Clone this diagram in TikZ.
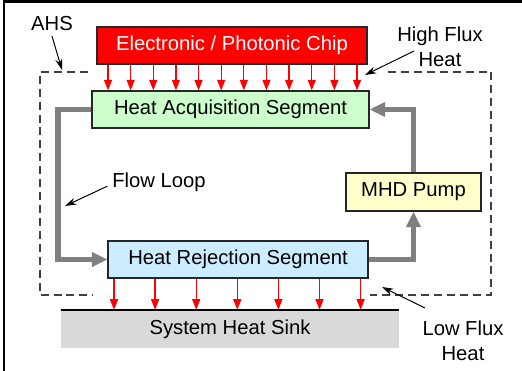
\documentclass[tikz,border=0pt]{standalone}
\usepackage{fontspec}
\setmainfont{Liberation Sans}
\usetikzlibrary{arrows.meta,positioning}
\definecolor{chipred}{RGB}{255,0,0}
\definecolor{acqgreen}{RGB}{204,255,204}
\definecolor{rejblue}{RGB}{204,236,255}
\definecolor{pumpyellow}{RGB}{255,255,204}
\definecolor{sinkgray}{RGB}{217,217,217}
\definecolor{loopgray}{RGB}{128,128,128}

\begin{document}
\begin{tikzpicture}[>=latex, font=\fontsize{14.4}{17.5}\selectfont,
  block/.style={draw=black!85, line width=0.9pt, inner sep=0pt, minimum height=0.925cm},
  heatflux/.style={red, line width=0.9pt, -{Triangle[length=7.5pt,width=5.7pt]}},
  loopline/.style={loopgray, line width=3.6pt, -{Triangle[length=11pt,width=10pt]}},
  callout/.style={black, line width=0.7pt, -{Stealth[length=8pt,width=5pt]}},
  ahsline/.style={black!75, line width=0.9pt, dash pattern=on 5.7pt off 3.5pt}]

\useasboundingbox (0,0) rectangle (13.05,9.275);

% ==========================================
% Frame (left and top edge only)
% ==========================================
\draw[line width=1.5pt] (0.1,0) -- (0.1,9.2375) -- (13.05,9.2375);

% ==========================================
% AHS Boundary (dashed, open where heat crosses)
% ==========================================
\draw[ahsline] (2.2,7.475) -- (1.0,7.475) -- (1.0,1.9) -- (2.325,1.9);
\draw[ahsline] (9.7,7.475) -- (12.275,7.475) -- (12.275,1.9) -- (9.25,1.9);

% ==========================================
% Blocks
% ==========================================
\node[block, fill=chipred, text=white, minimum width=6.75cm] (chip) at (5.8,8.1375) {Electronic / Photonic Chip};
\node[block, fill=acqgreen, minimum width=6.925cm] (acq) at (5.7625,6.5375) {Heat Acquisition Segment};
\node[block, fill=pumpyellow, minimum width=3.375cm, minimum height=0.95cm] (pump) at (10.3375,4.475) {MHD Pump};
\node[block, fill=rejblue, minimum width=6.5cm] (rej) at (5.95,2.7875) {Heat Rejection Segment};
\node[fill=sinkgray, inner sep=0pt, minimum width=8.45cm, minimum height=0.95cm] (sink) at (5.75,1.05) {System Heat Sink};
\draw[line width=1.4pt] (sink.north west) -- (sink.north east);

% ==========================================
% Heat Flux Arrows
% ==========================================
% High flux: chip -> acquisition
\foreach \i in {0,...,11}
  \draw[heatflux] ({2.7+0.566*\i},0 |- chip.south) -- ({2.7+0.566*\i},0 |- acq.north);
% Low flux: rejection -> sink
\foreach \i in {0,...,6}
  \draw[heatflux] ({2.85+1.0275*\i},0 |- rej.south) -- ({2.85+1.0275*\i},0 |- sink.north);

% ==========================================
% Flow Loop
% ==========================================
\draw[loopline] (acq.west) -- (1.45,0 |- acq.west) -- (1.45,0 |- rej.west) -- (rej.west);
\draw[loopline] (rej.east) -| (pump.south);
\draw[loopline] (pump.north) |- (acq.east);

% ==========================================
% Callout Labels
% ==========================================
\node (ahs) at (1.3,8.675) {AHS};
\node[align=center] (hiflux) at (11.0,8.1) {High Flux\\Heat};
\node (flow) at (3.975,4.725) {Flow Loop};
\node[align=center] (loflux) at (11.575,0.75) {Low Flux\\Heat};

\coordinate (ahstip) at (1.55,7.525);
\coordinate (hfstart) at (10.35,8.0);
\coordinate (hftip) at (9.125,7.4);
\coordinate (flowtip) at (1.625,4.125);
\coordinate (lfstart) at (10.625,1.575);
\coordinate (lftip) at (9.55,2.1);

\draw[callout] (ahs.south) -- (ahstip);
\draw[callout] (hfstart) -- (hftip);
\draw[callout] ([yshift=-3pt]flow.west) -- (flowtip);
\draw[callout] (lfstart) -- (lftip);

\end{tikzpicture}
\end{document}
